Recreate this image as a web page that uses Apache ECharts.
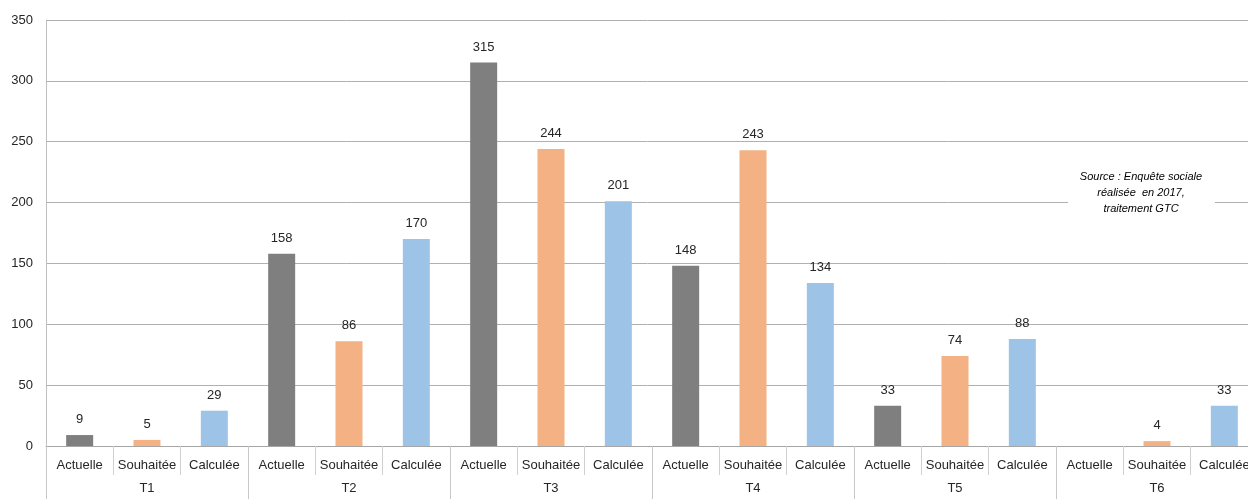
<!DOCTYPE html>
<html>
<head>
<meta charset="utf-8">
<script src="https://cdn.jsdelivr.net/npm/echarts@6/dist/echarts.min.js"></script>
<style>
  html, body { margin: 0; padding: 0; background: #fff; }
  #chart { width: 1248px; height: 499px; }
</style>
</head>
<body>
<div id="chart"></div>
<script>
var groups = ['T1', 'T2', 'T3', 'T4', 'T5', 'T6'];
var types = ['Actuelle', 'Souhaitée', 'Calculée'];
var actuelle = [9, 158, 315, 148, 33, null];
var souhaitee = [5, 86, 244, 243, 74, 4];
var calculee = [29, 170, 201, 134, 88, 33];
var colors = ['#7f7f7f', '#f4b183', '#9dc3e6'];
var yTicks = [0, 50, 100, 150, 200, 250, 300, 350];

var myChart = echarts.init(document.getElementById('chart'));

// une catégorie par barre, entrelacée par groupe
var cats = [], values = [];
groups.forEach(function(g, i) {
    [actuelle, souhaitee, calculee].forEach(function(arr, k) {
        cats.push(types[k]);
        values.push({
            value: arr[i],
            itemStyle: { color: colors[k] }
        });
    });
});

var font = 'Liberation Sans, Arial, sans-serif';

var option = {
    animation: false,
    grid: { left: 46, top: 20, width: 1212, height: 426, outerBoundsMode: 'none', containLabel: false },
    xAxis: [{
        type: 'category',
        data: cats,
        axisLine: { lineStyle: { color: '#a6a6a6' } },
        axisTick: { show: true, interval: 0, length: 29, lineStyle: { color: '#d0d0d0' } },
        axisLabel: { interval: 0, margin: 13, color: '#262626', fontSize: 13, fontFamily: font }
    }, {
        type: 'category',
        data: groups,
        position: 'bottom',
        axisLine: { show: false },
        axisTick: { show: true, interval: 0, length: 60, lineStyle: { color: '#c8c8c8' } },
        axisLabel: { interval: 0, margin: 36, color: '#262626', fontSize: 13, fontFamily: font },
        splitLine: { show: false }
    }],
    yAxis: {
        type: 'value',
        min: yTicks[0],
        max: yTicks[yTicks.length - 1],
        interval: 50,
        axisLine: { show: true, lineStyle: { color: '#bfbfbf' } },
        axisTick: { show: false },
        splitLine: { lineStyle: { color: '#b0b0b0' } },
        axisLabel: { margin: 13, color: '#262626', fontSize: 13, fontFamily: font }
    },
    series: [{
        type: 'bar',
        xAxisIndex: 0,
        data: values,
        barWidth: 27,
        label: {
            show: true,
            position: 'top',
            distance: 9,
            color: '#262626',
            fontSize: 13,
            fontFamily: font
        }
    }],
    graphic: [{
        type: 'rect',
        shape: { x: 1068, y: 166, width: 147, height: 52 },
        style: { fill: '#fff' },
        z: 100
    }, {
        type: 'text',
        x: 1141,
        y: 169,
        z: 101,
        style: {
            text: 'Source : Enquête sociale\nréalisée  en 2017,\ntraitement GTC',
            align: 'center',
            fontStyle: 'italic',
            fontSize: 11,
            lineHeight: 16,
            fontFamily: font,
            fill: '#000'
        }
    }]
};
myChart.setOption(option);
</script>
</body>
</html>
